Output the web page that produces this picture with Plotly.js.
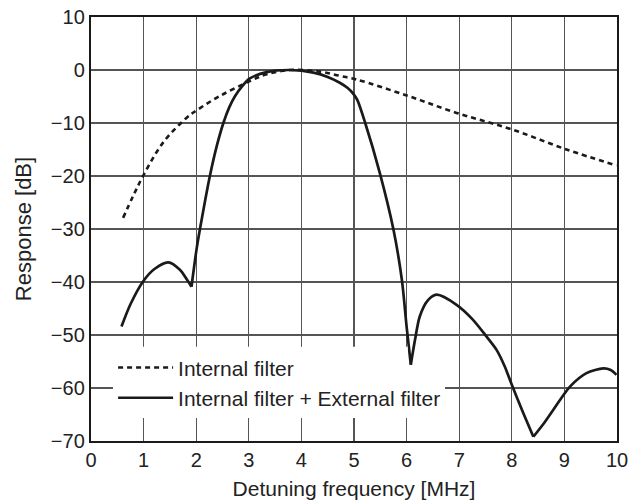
<!DOCTYPE html>
<html>
<head>
<meta charset="utf-8">
<script src="https://cdn.plot.ly/plotly-3.0.1.min.js"></script>
<style>html,body{margin:0;padding:0;background:#fff;}#chart{width:642px;height:503px;}</style>
</head>
<body>
<div id="chart"></div>
<script>
// Internal filter (dashed)
const internalX = [0.61, 0.80, 0.99, 1.37, 1.82, 2.01, 2.45, 3.02, 3.34, 3.79, 4.35, 4.73, 5.05, 6.00, 6.95, 8.00, 9.04, 9.99];
const internalY = [-27.9, -23.8, -20.0, -13.7, -9.0, -7.6, -4.9, -2.1, -0.8, 0.0, -0.3, -1.1, -1.8, -4.8, -8.1, -11.2, -15.0, -18.0];

// Internal filter + External filter (solid)
const combinedX = [0.58, 0.75, 0.99, 1.20, 1.47, 1.69, 1.82, 1.91, 2.01, 2.07, 2.26, 2.40, 2.52, 2.63, 2.74, 2.88, 3.02, 3.34, 3.79, 4.23, 4.50, 4.73, 4.88, 4.98, 5.06, 5.21, 5.49, 5.75, 5.91, 6.00, 6.08, 6.16, 6.25, 6.40, 6.57, 6.95, 7.25, 7.52, 7.71, 7.86, 8.00, 8.20, 8.41, 8.60, 8.79, 9.11, 9.42, 9.74, 9.88, 9.99];
const combinedY = [-48.4, -44.2, -39.9, -37.6, -36.3, -37.7, -39.5, -40.9, -33.6, -30.1, -20.0, -14.0, -9.9, -7.0, -4.9, -3.0, -1.6, -0.4, 0.0, -0.5, -1.3, -2.4, -3.4, -4.4, -5.6, -9.9, -19.4, -30.1, -39.6, -48.4, -55.6, -50.9, -46.5, -43.5, -42.4, -44.3, -47.0, -50.3, -52.8, -55.8, -59.4, -64.3, -69.2, -66.8, -64.1, -59.7, -57.2, -56.3, -56.6, -57.5];
// x positions of the sharp notches in the combined response
const notchX = [1.91, 6.08, 8.41];

const seriesNames = ["Internal filter", "Internal filter + External filter"];
const xTicks = [0, 1, 2, 3, 4, 5, 6, 7, 8, 9, 10];
const yTicks = [10, 0, -10, -20, -30, -40, -50, -60, -70];

const FONT = "Liberation Sans, Arial, Helvetica, sans-serif";
const INK = "#1a1a1a";

const traces = [
  {
    x: internalX, y: internalY, name: seriesNames[0], type: "scatter", mode: "lines",
    line: {color: INK, width: 2.6, dash: "5px,4px", shape: "spline", smoothing: 1}
  }
];

const cuts = [0].concat(notchX.map(v => combinedX.indexOf(v)), [combinedX.length - 1]);
for (let s = 0; s < cuts.length - 1; s++) {
  traces.push({
    x: combinedX.slice(cuts[s], cuts[s + 1] + 1),
    y: combinedY.slice(cuts[s], cuts[s + 1] + 1),
    name: seriesNames[1], legendgroup: "combined", showlegend: s === 0,
    type: "scatter", mode: "lines",
    line: {color: INK, width: 2.7, shape: "spline", smoothing: 0.8}
  });
}

const axisCommon = {
  showline: true, linecolor: INK, linewidth: 2.2, mirror: true,
  showgrid: true, gridcolor: "#555", gridwidth: 1.1,
  zeroline: false, ticks: "", tickfont: {family: FONT, size: 20, color: "#222"},
  fixedrange: true
};

// white panel behind the legend text (hides the grid), leaving a gap where the 6 MHz notch dips into it
const legendPanel = "M0.418,-52.2 L6.02,-52.2 L6.02,-57.4 L6.2,-57.4 L6.2,-52.2 L6.73,-52.2 L6.73,-65.65 L0.418,-65.65 Z";

const layout = {
  width: 642, height: 503,
  margin: {l: 91, r: 25, t: 17, b: 62},
  paper_bgcolor: "#fff", plot_bgcolor: "#fff",
  showlegend: true,
  legend: {
    x: 0.042, y: 0.221, xanchor: "left", yanchor: "top",
    bgcolor: "rgba(0,0,0,0)", borderwidth: 0,
    font: {family: FONT, size: 21, color: "#222"},
    itemwidth: 55, tracegroupgap: 0
  },
  shapes: [{
    type: "path", xref: "x", yref: "y", layer: "above",
    path: legendPanel, fillcolor: "#fff", line: {width: 0}
  }],
  xaxis: Object.assign({}, axisCommon, {
    range: [0, 10], tickvals: xTicks, ticktext: xTicks.map(String),
    title: {text: "Detuning frequency [MHz]", font: {family: FONT, size: 21, color: "#222"}, standoff: 11}
  }),
  yaxis: Object.assign({}, axisCommon, {
    range: [-70, 10], tickvals: yTicks,
    title: {text: "Response [dB]", font: {family: FONT, size: 22, color: "#222"}, standoff: 13}
  })
};

Plotly.newPlot("chart", traces, layout, {displayModeBar: false, staticPlot: true});
</script>
</body>
</html>
